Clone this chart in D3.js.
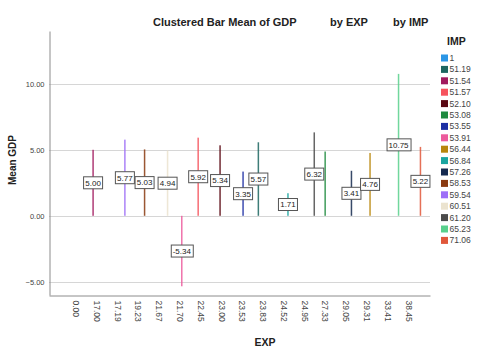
<!DOCTYPE html>
<html>
<head>
<meta charset="utf-8">
<script src="https://cdn.jsdelivr.net/npm/d3@7"></script>
<style>
  body { margin: 0; background: #fff; }
  text { font-family: "Liberation Sans", Arial, sans-serif; }
</style>
</head>
<body>
<div id="chart"></div>
<script>
// EXP categories on the x axis
const expCats = ['0.00', '17.00', '17.19', '19.23', '21.67', '21.70', '22.45', '23.00',
  '23.53', '23.83', '24.52', '24.95', '27.33', '29.05', '29.31', '33.41', '38.45'];
// IMP clusters (legend order)
const impCats = ['1', '51.19', '51.54', '51.57', '52.10', '53.08', '53.55', '53.91',
  '56.44', '56.84', '57.26', '58.53', '59.54', '60.51', '61.20', '65.23', '71.06'];
const impColors = ['#2b96e6', '#1c6660', '#a11a5e', '#f6535d', '#5a0812', '#1f8a3e',
  '#1d2fa3', '#ec5b9c', '#b8860b', '#1aa5a0', '#152a4f', '#8a3a0f', '#9e6ff7',
  '#ebe3cf', '#4b4b4b', '#58d08c', '#e0573a'];

// one bar per row
const barExp = ['17.00', '17.19', '19.23', '21.67', '21.70', '22.45', '23.00', '23.53',
  '23.83', '24.52', '24.95', '27.33', '29.05', '29.31', '33.41', '38.45'];
const barImp = ['51.54', '59.54', '58.53', '60.51', '53.91', '51.57', '52.10', '53.55',
  '51.19', '56.84', '61.20', '53.08', '57.26', '56.44', '65.23', '71.06'];
const barGdp = [5.00, 5.77, 5.03, 4.94, -5.34, 5.92, 5.34, 3.35,
  5.57, 1.71, 6.32, 4.87, 3.41, 4.76, 10.75, 5.22];
const barLabelShown = [true, true, true, true, true, true, true, true,
  true, true, true, false, true, true, true, true];

const yTicks = [-5, 0, 5, 10];

const width = 480;
const height = 351;
const margin = { top: 31, right: 50, bottom: 56, left: 49 };

const svg = d3.select('#chart')
  .append('svg')
  .attr('width', width)
  .attr('height', height);

const x = d3.scaleBand()
  .domain(expCats)
  .range([margin.left, width - margin.right])
  .paddingInner(0)
  .paddingOuter(0.66)
  .align(0.71);

const xSub = d3.scaleBand()
  .domain(impCats)
  .range([0, x.bandwidth()])
  .paddingOuter(0.95);

const y = d3.scaleLinear()
  .domain([-6, 14])
  .range([height - margin.bottom, margin.top]);

const color = d3.scaleOrdinal().domain(impCats).range(impColors);

// gridlines
svg.append('g')
  .selectAll('line')
  .data(yTicks)
  .enter()
  .append('line')
  .attr('x1', margin.left)
  .attr('x2', width - margin.right)
  .attr('y1', d => Math.round(y(d)) + 0.5)
  .attr('y2', d => Math.round(y(d)) + 0.5)
  .attr('stroke', '#d6d6d6');

// y axis
const yG = svg.append('g')
  .attr('transform', `translate(${margin.left + 0.5},0)`)
  .call(d3.axisLeft(y).tickValues(yTicks).tickSize(0).tickPadding(5).tickFormat(d3.format('.2f')));
yG.select('.domain').attr('stroke', '#8c8c8c');
yG.selectAll('text')
  .attr('font-size', 7.5)
  .attr('fill', '#444')
  .style('font-family', '"Liberation Sans", Arial, sans-serif');

// x axis
const xG = svg.append('g')
  .attr('transform', `translate(0,${height - margin.bottom + 0.5})`)
  .call(d3.axisBottom(x).tickSize(0).tickPadding(0));
xG.select('.domain').attr('stroke', '#8c8c8c');
xG.selectAll('text')
  .attr('font-size', 8.5)
  .attr('fill', '#444')
  .attr('transform', 'rotate(90)')
  .attr('x', 5)
  .attr('y', 0)
  .attr('dy', '0.7em')
  .style('text-anchor', 'start')
  .style('font-family', '"Liberation Sans", Arial, sans-serif');

// bars
const barData = barExp.map((e, i) => ({
  exp: e, imp: barImp[i], gdp: barGdp[i], shown: barLabelShown[i],
}));
const barW = 1.5;
const cx = d => x(d.exp) + xSub(d.imp) + xSub.bandwidth() / 2;

svg.append('g')
  .selectAll('rect')
  .data(barData)
  .enter()
  .append('rect')
  .attr('x', d => cx(d) - barW / 2)
  .attr('width', barW)
  .attr('y', d => y(Math.max(0, d.gdp)))
  .attr('height', d => Math.abs(y(d.gdp) - y(0)))
  .attr('fill', d => color(d.imp))
  .attr('opacity', 0.85);

// value labels
const labelG = svg.append('g')
  .selectAll('g')
  .data(barData.filter(d => d.shown))
  .enter()
  .append('g')
  .attr('transform', d => `translate(${cx(d)},${y(d.gdp / 2)})`);

labelG.append('text')
  .attr('text-anchor', 'middle')
  .attr('dy', '0.35em')
  .attr('font-size', 8)
  .attr('fill', '#222')
  .text(d => d.gdp.toFixed(2));

labelG.each(function addBox() {
  const g = d3.select(this);
  const bb = g.select('text').node().getBBox();
  g.insert('rect', 'text')
    .attr('x', Math.round(bb.x) - 1.5)
    .attr('y', -6)
    .attr('width', Math.round(bb.width) + 3)
    .attr('height', 12)
    .attr('fill', '#fff')
    .attr('stroke', '#555')
    .attr('stroke-width', 1);
});

// titles
const title = [['Clustered Bar Mean of GDP', 153], ['by EXP', 330], ['by IMP', 393]];
svg.append('g')
  .selectAll('text')
  .data(title)
  .enter()
  .append('text')
  .attr('x', d => d[1])
  .attr('y', 26)
  .attr('font-size', 11)
  .attr('font-weight', 'bold')
  .attr('fill', '#222')
  .text(d => d[0]);

svg.append('text')
  .attr('transform', 'translate(16,160) rotate(-90)')
  .attr('text-anchor', 'middle')
  .attr('font-size', 10)
  .attr('font-weight', 'bold')
  .attr('fill', '#222')
  .text('Mean GDP');

svg.append('text')
  .attr('x', 265)
  .attr('y', 346)
  .attr('text-anchor', 'middle')
  .attr('font-size', 10.5)
  .attr('font-weight', 'bold')
  .attr('fill', '#222')
  .text('EXP');

// legend
const legend = svg.append('g').attr('transform', 'translate(441,0)');
legend.append('text')
  .attr('x', 6)
  .attr('y', 45)
  .attr('font-size', 10.5)
  .attr('font-weight', 'bold')
  .attr('fill', '#222')
  .text('IMP');

const legendY = d3.scalePoint().domain(impCats).range([58, 240.4]);
const items = legend.selectAll('g.item')
  .data(impCats)
  .enter()
  .append('g')
  .attr('class', 'item')
  .attr('transform', d => `translate(0,${legendY(d)})`);
items.append('rect')
  .attr('x', 0)
  .attr('y', -3.5)
  .attr('width', 7)
  .attr('height', 7)
  .attr('fill', d => color(d));
items.append('text')
  .attr('x', 8.5)
  .attr('dy', '0.35em')
  .attr('font-size', 8.5)
  .attr('fill', '#444')
  .text(d => d);
</script>
</body>
</html>
